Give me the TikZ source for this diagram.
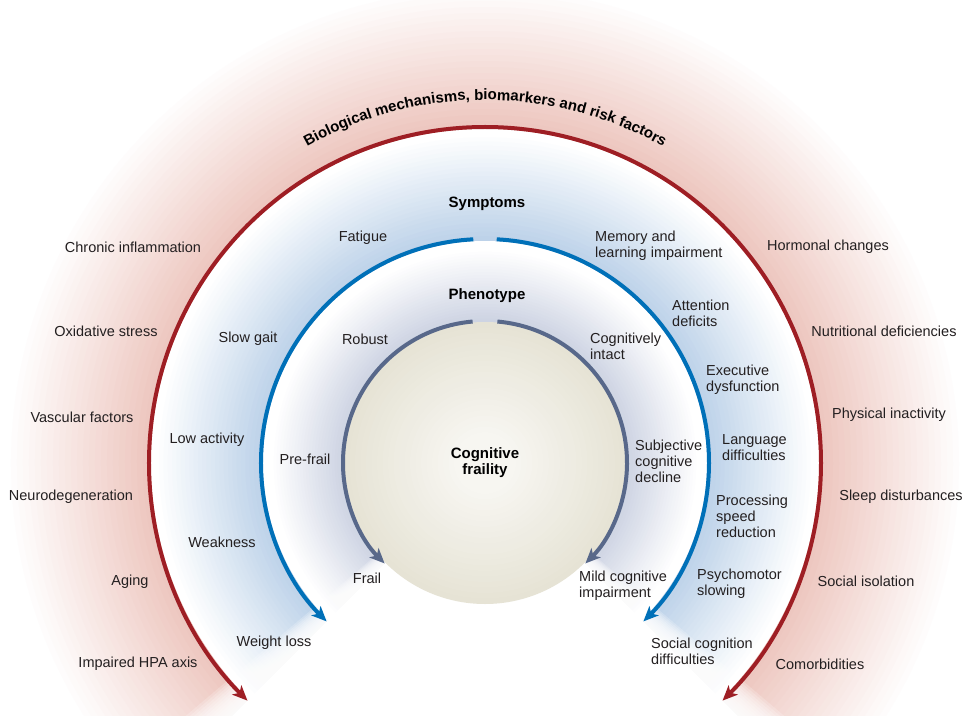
\documentclass[tikz,border=0pt]{standalone}
\usepackage{fontspec}
\setmainfont{Liberation Sans}
\usetikzlibrary{arrows.meta,decorations.text}

\definecolor{arcred}{RGB}{158,30,36}
\definecolor{arcblue}{RGB}{0,112,184}
\definecolor{arcgray}{RGB}{88,104,138}
\definecolor{glowred}{RGB}{236,194,186}
\definecolor{glowblue}{RGB}{186,208,232}
\definecolor{glowgray}{RGB}{204,210,226}
\definecolor{beigein}{RGB}{247,246,241}
\definecolor{beigeout}{RGB}{230,227,213}
\definecolor{ink}{RGB}{35,31,32}

\tikzset{
  lbl/.style={inner sep=0pt, text=ink, font=\fontsize{14.5}{16}\selectfont, align=center},
  lblw/.style={lbl, anchor=west, align=left},
  ttl/.style={inner sep=0pt, text=black, font=\fontsize{15}{16}\selectfont\bfseries, align=center},
  ring/.style={line width=4pt, -{Stealth[length=15pt,width=13pt,inset=4pt]}},
}

\begin{document}
\begin{tikzpicture}[x=1pt,y=1pt]
  \useasboundingbox (-485,-252) rectangle (483,463);
  \clip (-485,-252) rectangle (483,463);
  \fill[white] (-485,-252) rectangle (483,463);
  % glow around the outer ring
  \foreach \k [evaluate=\k as \r using 480-6*\k, evaluate=\k as \p using int(4*\k)] in {0,...,24}
    \fill[glowred!\p!white] (0,0) -- (-48:\r) arc (-48:228:\r) -- cycle;
  \fill[white] (0,0) -- (-48:334) arc (-48:228:334) -- cycle;
  % glow around the symptoms ring
  \foreach \k [evaluate=\k as \r using 330-4.3*\k, evaluate=\k as \p using int(4*\k)] in {0,...,24}
    \fill[glowblue!\p!white] (0,0) -- (-48:\r) arc (-48:228:\r) -- cycle;
  \fill[white] (0,0) -- (-48:222) arc (-48:228:222) -- cycle;
  % glow around the phenotype ring
  \foreach \k [evaluate=\k as \r using 214-2.9*\k, evaluate=\k as \p using int(4*\k)] in {0,...,24}
    \fill[glowgray!\p!white] (0,0) -- (-48:\r) arc (-48:228:\r) -- cycle;
  % open cut at the bottom, with soft edges
  \fill[white] (0,0) -- (225:520) arc (225:315:520) -- cycle;
  \foreach \k in {1,...,12} {
    \fill[white, opacity=0.2] (0,0) -- (225-0.4*\k:520) arc (225-0.4*\k:225.5:520) -- cycle;
    \fill[white, opacity=0.2] (0,0) -- (-45.5:520) arc (-45.5:-45+0.4*\k:520) -- cycle;
  }
  % core disc
  \foreach \k [evaluate=\k as \r using 141-5.5*\k, evaluate=\k as \p using int(5*\k)] in {0,...,20}
    \fill[beigein!\p!beigeout] (0,0) circle (\r);

  % rings
  \draw[ring, arcred] (90:336) arc (90:225:336);
  \draw[ring, arcred] (90:336) arc (90:-45:336);
  \draw[ring, arcblue] (93:224) arc (93:225:224);
  \draw[ring, arcblue] (87:224) arc (87:-45:224);
  \draw[ring, arcgray] (95:142) arc (95:225:142);
  \draw[ring, arcgray] (85:142) arc (85:-45:142);

  % titles
  \path[decorate, decoration={text along path, text align=center,
    text={|\fontsize{15}{16}\selectfont\bfseries|Biological mechanisms, biomarkers and risk factors}}]
    (150:363) arc (150:30:363);
  \node[ttl] (symptoms) at (2,259) {Symptoms};
  \node[ttl] (phenotype) at (2,167) {Phenotype};
  \node[ttl] (core) at (0,0) {Cognitive\\fraility};

  % risk factors
  \node[lbl] (inflam) at (-352,216) {Chronic inflammation};
  \node[lbl] (oxid) at (-379,132) {Oxidative stress};
  \node[lbl] (vasc) at (-403,46) {Vascular factors};
  \node[lbl] (neuro) at (-414,-34) {Neurodegeneration};
  \node[lbl] (aging) at (-355,-119) {Aging};
  \node[lbl] (hpa) at (-347,-201) {Impaired HPA axis};
  \node[lbl] (hormon) at (343,216) {Hormonal changes};
  \node[lbl] (nutri) at (399,132) {Nutritional deficiencies};
  \node[lbl] (inact) at (404,48) {Physical inactivity};
  \node[lbl] (sleep) at (416,-34) {Sleep disturbances};
  \node[lbl] (isol) at (381,-118) {Social isolation};
  \node[lbl] (comorb) at (335,-201) {Comorbidities};

  % symptoms
  \node[lbl] (fatigue) at (-122,225) {Fatigue};
  \node[lbl] (gait) at (-237,124) {Slow gait};
  \node[lbl] (lowact) at (-278,23) {Low activity};
  \node[lbl] (weak) at (-263,-79) {Weakness};
  \node[lbl] (wloss) at (-211,-180) {Weight loss};
  \node[lblw] (memory) at (110,217) {Memory and\\learning impairment};
  \node[lblw] (attent) at (187,150) {Attention\\deficits};
  \node[lblw] (exec) at (221,83) {Executive\\dysfunction};
  \node[lblw] (lang) at (237,15) {Language\\difficulties};
  \node[lblw] (speed) at (231,-53) {Processing\\speed\\reduction};
  \node[lblw] (psycho) at (212,-121) {Psychomotor\\slowing};
  \node[lblw] (social) at (166,-188) {Social cognition\\difficulties};

  % phenotype
  \node[lbl] (robust) at (-120,124) {Robust};
  \node[lbl] (prefrail) at (-180,4) {Pre-frail};
  \node[lbl] (frail) at (-118,-115) {Frail};
  \node[lblw] (intact) at (105,117) {Cognitively\\intact};
  \node[lblw] (scd) at (150,2) {Subjective\\cognitive\\decline};
  \node[lblw] (mci) at (94,-123) {Mild cognitive\\impairment};
\end{tikzpicture}
\end{document}
